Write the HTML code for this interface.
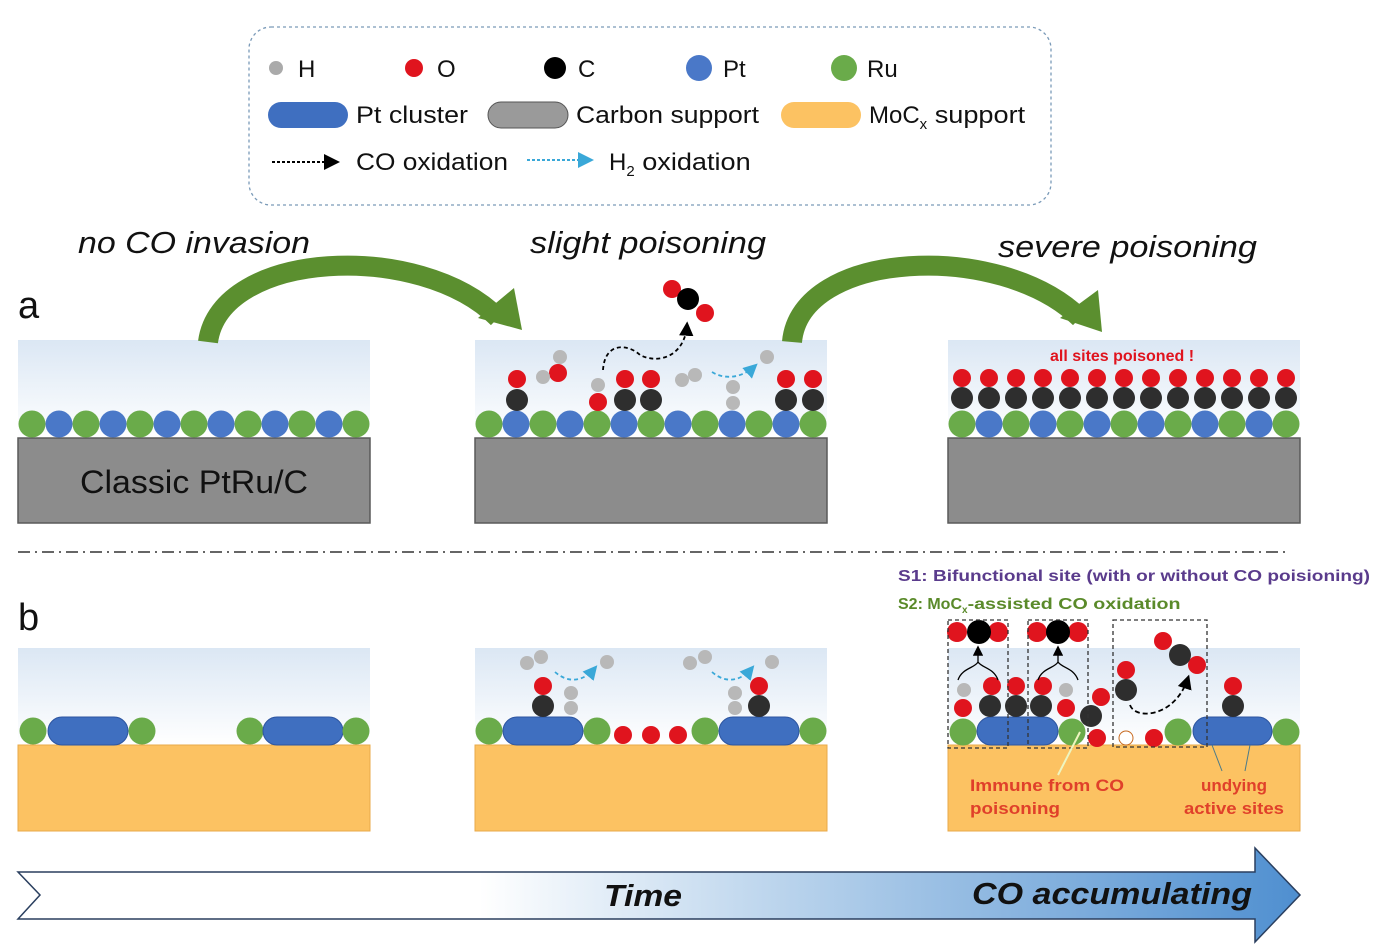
<!DOCTYPE html>
<html><head><meta charset="utf-8"><style>
html,body{margin:0;padding:0;background:#fff;}
svg{display:block;font-family:"Liberation Sans",Arial,sans-serif;}
</style></head><body>
<svg id="s" width="1386" height="950" viewBox="0 0 1386 950" xmlns="http://www.w3.org/2000/svg">
<defs>
<linearGradient id="sky" x1="0" y1="0" x2="0" y2="1"><stop offset="0" stop-color="#dbe7f4"/><stop offset="1" stop-color="#ffffff"/></linearGradient>
<linearGradient id="tarr" x1="0" y1="0" x2="1" y2="0"><stop offset="0" stop-color="#fff"/><stop offset="0.36" stop-color="#fff"/><stop offset="0.6" stop-color="#b9d3ec"/><stop offset="1" stop-color="#4f8fd0"/></linearGradient>
<marker id="ab" markerWidth="8" markerHeight="8" refX="6" refY="4" orient="auto"><path d="M0,0 L8,4 L0,8 z" fill="#000"/></marker>
<marker id="ac" markerWidth="8" markerHeight="8" refX="6" refY="4" orient="auto"><path d="M0,0 L8,4 L0,8 z" fill="#3aa8d8"/></marker>
</defs>
<rect x="249" y="27" width="802" height="178" rx="22" fill="none" stroke="#7a9ab8" stroke-width="1.3" stroke-dasharray="3,3"/>
<g font-size="24" fill="#111">
<circle cx="276" cy="68" r="7" fill="#aaa"/><text x="298" y="77">H</text>
<circle cx="414" cy="68" r="9" fill="#e0141e"/><text x="437" y="77">O</text>
<circle cx="555" cy="68" r="11" fill="#000"/><text x="578" y="77">C</text>
<circle cx="699" cy="68" r="13" fill="#4a78c8"/><text x="723" y="77">Pt</text>
<circle cx="844" cy="68" r="13" fill="#6aab4a"/><text x="867" y="77">Ru</text>
<rect x="268" y="102" width="80" height="26" rx="13" fill="#3f6fc0"/><text x="356" y="123" textLength="112" lengthAdjust="spacingAndGlyphs">Pt cluster</text>
<rect x="488" y="102" width="80" height="26" rx="13" fill="#9a9a9a" stroke="#555"/><text x="576" y="123" textLength="183" lengthAdjust="spacingAndGlyphs">Carbon support</text>
<rect x="781" y="102" width="80" height="26" rx="13" fill="#fcc262"/><text x="869" y="123">MoC<tspan font-size="15" dy="6">x</tspan><tspan dy="-6" textLength="98" lengthAdjust="spacingAndGlyphs"> support</tspan></text>
<line x1="272" y1="162" x2="336" y2="162" stroke="#000" stroke-width="2" stroke-dasharray="3,2" marker-end="url(#ab)"/><text x="356" y="170" textLength="152" lengthAdjust="spacingAndGlyphs">CO oxidation</text>
<line x1="527" y1="160" x2="590" y2="160" stroke="#3aa8d8" stroke-width="2" stroke-dasharray="3,2" marker-end="url(#ac)"/><text x="609" y="170">H<tspan font-size="15" dy="6">2</tspan><tspan dy="-6" textLength="116" lengthAdjust="spacingAndGlyphs"> oxidation</tspan></text>
</g>
<g font-size="31" font-style="italic" fill="#111">
<text x="78" y="253" textLength="232" lengthAdjust="spacingAndGlyphs">no CO invasion</text><text x="530" y="253" textLength="236" lengthAdjust="spacingAndGlyphs">slight poisoning</text><text x="998" y="257" textLength="259" lengthAdjust="spacingAndGlyphs">severe poisoning</text>
</g>
<text x="18" y="318" font-size="38" fill="#111">a</text>
<text x="18" y="630" font-size="38" fill="#111">b</text>
<g id="pa"></g>
<path d="M208,342 C220,250 420,240 498,318" fill="none" stroke="#5b8f2f" stroke-width="20"/>
<polygon points="478,318 522,330 514,288" fill="#5b8f2f"/>
<path d="M792,342 C800,250 1000,240 1080,318" fill="none" stroke="#5b8f2f" stroke-width="20"/>
<polygon points="1060,318 1102,332 1098,290" fill="#5b8f2f"/>
<text x="1122" y="361" font-size="16" font-weight="bold" fill="#e0141e" text-anchor="middle">all sites poisoned !</text>
<text x="80" y="493" font-size="32" fill="#111" textLength="228" lengthAdjust="spacingAndGlyphs">Classic PtRu/C</text>
<line x1="18" y1="552" x2="1290" y2="552" stroke="#333" stroke-width="1.5" stroke-dasharray="12,5,2,5"/>
<text x="78" y="800" font-size="32" fill="#111"><tspan textLength="250" lengthAdjust="spacingAndGlyphs">SA-Ru@Pt/MoC</tspan><tspan font-size="20" dy="8">x</tspan></text>
<text x="898" y="581" font-size="16" font-weight="bold" fill="#5a3b8c" textLength="472" lengthAdjust="spacingAndGlyphs">S1: Bifunctional site (with or without CO poisioning)</text>
<text x="898" y="609" font-size="16" font-weight="bold" fill="#5a8a2a">S2: MoC<tspan font-size="10" dy="4">x</tspan><tspan dy="-4" textLength="213" lengthAdjust="spacingAndGlyphs">-assisted CO oxidation</tspan></text>
<g id="pb"></g>
<g font-size="17" font-weight="bold" fill="#e0402a">
<text x="970" y="791" textLength="154" lengthAdjust="spacingAndGlyphs">Immune from CO</text><text x="970" y="814" textLength="90" lengthAdjust="spacingAndGlyphs">poisoning</text>
<text x="1234" y="791" text-anchor="middle">undying</text><text x="1234" y="814" text-anchor="middle" textLength="100" lengthAdjust="spacingAndGlyphs">active sites</text>
</g>
<polygon points="18,872 1255,872 1255,848 1300,895 1255,942 1255,919 18,919 40,895" fill="url(#tarr)" stroke="#2a3f5f" stroke-width="1.5"/>
<text x="604" y="906" font-size="31" font-weight="bold" font-style="italic" fill="#111" textLength="78" lengthAdjust="spacingAndGlyphs">Time</text>
<text x="972" y="904" font-size="31" font-weight="bold" font-style="italic" fill="#111" textLength="280" lengthAdjust="spacingAndGlyphs">CO accumulating</text>
</svg>
<script>
var NS="http://www.w3.org/2000/svg";
function el(p,t,a){var e=document.createElementNS(NS,t);for(var k in a)e.setAttribute(k,a[k]);document.getElementById(p).appendChild(e);return e;}
function c(p,x,y,r,f){el(p,"circle",{cx:x,cy:y,r:r,fill:f});}
var G="#6aab4a",B="#4a78c8",R="#e0141e",K="#2e2e2e",H="#b8b8b8";
[18,475,948].forEach(function(x0){
 el("pa","rect",{x:x0,y:340,width:352,height:98,fill:"url(#sky)"});
 el("pa","rect",{x:x0,y:438,width:352,height:85,fill:"#8c8c8c",stroke:"#5a5a5a","stroke-width":1.5});
 for(var i=0;i<13;i++)c("pa",x0+14+i*27,424,13.5,i%2?B:G);
});
[517,625,651,786,813].forEach(function(x){c("pa",x,400,11,K);c("pa",x,379,9,R);});
for(var i=0;i<13;i++){c("pa",962+i*27,398,11,K);c("pa",962+i*27,378,9,R);}
c("pa",598,402,9,R);c("pa",598,385,7,H);
c("pa",560,357,7,H);c("pa",558,373,9,R);c("pa",543,377,7,H);
c("pa",682,380,7,H);c("pa",695,375,7,H);c("pa",733,387,7,H);c("pa",733,403,7,H);c("pa",767,357,7,H);
c("pa",672,289,9,R);c("pa",705,313,9,R);c("pa",688,299,11,"#000");
el("pa","path",{d:"M603,370 C605,340 630,345 640,355 C660,365 685,355 687,325",fill:"none",stroke:"#000","stroke-width":1.8,"stroke-dasharray":"4,3","marker-end":"url(#ab)"});
el("pa","path",{d:"M712,372 C725,380 742,378 755,366",fill:"none",stroke:"#3aa8d8","stroke-width":1.8,"stroke-dasharray":"4,3","marker-end":"url(#ac)"});
[18,475,948].forEach(function(x0){
 el("pb","rect",{x:x0,y:648,width:352,height:97,fill:"url(#sky)"});
 el("pb","rect",{x:x0,y:745,width:352,height:86,fill:"#fcc262",stroke:"#e8a94a","stroke-width":1});
});
function cl(x1,x2){el("pb","rect",{x:x1,y:717,width:x2-x1,height:28,rx:14,fill:"#3f6fc0",stroke:"#2d55a0"});}
c("pb",33,731,13.5,G);cl(48,128);c("pb",142,731,13.5,G);c("pb",250,731,13.5,G);cl(263,343);c("pb",356,731,13.5,G);
c("pb",489,731,13.5,G);cl(503,583);c("pb",597,731,13.5,G);c("pb",623,735,9,R);c("pb",651,735,9,R);c("pb",678,735,9,R);c("pb",705,731,13.5,G);cl(719,799);c("pb",813,731,13.5,G);
[[543,571,527,541,555,597,607],[759,735,690,705,712,765,772]].forEach(function(a){
 c("pb",a[0],706,11,K);c("pb",a[0],686,9,R);c("pb",a[1],693,7,H);c("pb",a[1],708,7,H);
 c("pb",a[2],663,7,H);c("pb",a[3],657,7,H);c("pb",a[6],662,7,H);
 el("pb","path",{d:"M"+a[4]+",672 C"+(a[4]+15)+",685 "+(a[4]+30)+",680 "+(a[4]+40)+",668",fill:"none",stroke:"#3aa8d8","stroke-width":1.8,"stroke-dasharray":"4,3","marker-end":"url(#ac)"});
});
c("pb",963,732,13.5,G);cl(977,1058);c("pb",1072,732,13.5,G);c("pb",1178,732,13.5,G);cl(1193,1272);c("pb",1286,732,13.5,G);
[[957,632,R],[998,632,R],[979,632,"#000"],[1037,632,R],[1078,632,R],[1058,632,"#000"]].forEach(function(a){c("pb",a[0],a[1],a[2]==R?10:12,a[2]);});
c("pb",964,690,7,H);c("pb",963,708,9,R);c("pb",992,686,9,R);c("pb",990,706,11,K);
c("pb",1016,706,11,K);c("pb",1016,686,9,R);c("pb",1041,706,11,K);c("pb",1043,686,9,R);
c("pb",1066,690,7,H);c("pb",1066,708,9,R);c("pb",1101,697,9,R);c("pb",1091,716,11,K);c("pb",1097,738,9,R);
c("pb",1126,690,11,K);c("pb",1126,670,9,R);c("pb",1163,641,9,R);c("pb",1197,665,9,R);c("pb",1180,655,11,K);
el("pb","circle",{cx:1126,cy:738,r:7,fill:"#fff",stroke:"#c86a20"});c("pb",1154,738,9,R);
c("pb",1233,706,11,K);c("pb",1233,686,9,R);
[[948,620,60,128],[1028,620,60,128],[1113,620,94,127]].forEach(function(b){el("pb","rect",{x:b[0],y:b[1],width:b[2],height:b[3],fill:"none",stroke:"#333","stroke-width":1.3,"stroke-dasharray":"4,3"});});
el("pb","path",{d:"M958,680 C962,668 975,668 978,662 M998,680 C994,668 982,668 978,662 M978,662 L978,648",fill:"none",stroke:"#000","stroke-width":1.3,"marker-end":"url(#ab)"});
el("pb","path",{d:"M1038,680 C1042,668 1055,668 1058,662 M1078,680 C1074,668 1062,668 1058,662 M1058,662 L1058,648",fill:"none",stroke:"#000","stroke-width":1.3,"marker-end":"url(#ab)"});
el("pb","path",{d:"M1130,705 C1135,720 1175,718 1188,678",fill:"none",stroke:"#000","stroke-width":1.8,"stroke-dasharray":"5,3","marker-end":"url(#ab)"});
el("pb","line",{x1:1058,y1:775,x2:1080,y2:732,stroke:"#eef5c0","stroke-width":2});
el("pb","line",{x1:1222,y1:771,x2:1212,y2:745,stroke:"#4a7a8a","stroke-width":1});
el("pb","line",{x1:1245,y1:771,x2:1250,y2:745,stroke:"#4a7a8a","stroke-width":1});
</script>
</body></html>
